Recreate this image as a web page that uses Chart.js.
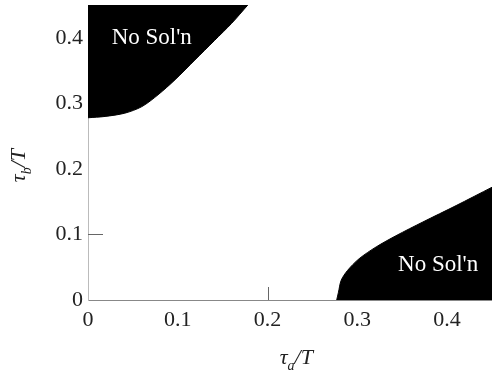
<!DOCTYPE html>
<html>
<head>
<meta charset="utf-8">
<script src="https://cdn.jsdelivr.net/npm/chart.js@4.4.1/dist/chart.umd.min.js"></script>
<style>
  html, body { margin: 0; padding: 0; background: #fff; }
  #wrap { width: 492px; height: 379px; }
</style>
</head>
<body>
<div id="wrap"><canvas id="myChart"></canvas></div>
<script>
// boundary of the upper "no solution" region (tau_a/T, tau_b/T)
const upperX = [0, 0.019, 0.041, 0.060, 0.078, 0.097, 0.119, 0.141, 0.160, 0.178];
const upperY = [0.278, 0.280, 0.285, 0.295, 0.313, 0.336, 0.366, 0.396, 0.422, 0.45];
// boundary of the lower "no solution" region
const lowerX = [0.277, 0.279, 0.282, 0.289, 0.302, 0.321, 0.343, 0.373, 0.410, 0.45];
const lowerY = [0, 0.012, 0.030, 0.045, 0.063, 0.081, 0.098, 0.119, 0.144, 0.172];

const xTicks = [0, 0.1, 0.2, 0.3, 0.4];
const yTicks = [0, 0.1, 0.2, 0.3, 0.4];
const labelText = "No Sol'n";
const labelX = [0.071, 0.39];
const labelY = [0.4, 0.053];

const serif = '"Liberation Serif", "Times New Roman", serif';

function pts(xs, ys) {
    return xs.map((x, i) => ({ x: x, y: ys[i] }));
}

// labels, axis titles and the two inner tick marks
const extras = {
    id: 'extras',
    afterDatasetsDraw(chart) {
        const ctx = chart.ctx;
        const xs = chart.scales.x, ys = chart.scales.y;
        const area = chart.chartArea;
        ctx.save();
        ctx.fillStyle = '#fff';
        ctx.font = '23px ' + serif;
        ctx.textAlign = 'center';
        ctx.textBaseline = 'middle';
        labelX.forEach((x, i) => {
            ctx.fillText(labelText, xs.getPixelForValue(x), ys.getPixelForValue(labelY[i]));
        });

        // inner tick marks
        ctx.strokeStyle = '#666';
        ctx.lineWidth = 1;
        const ty = Math.round(ys.getPixelForValue(0.1)) + 0.5;
        ctx.beginPath();
        ctx.moveTo(area.left, ty);
        ctx.lineTo(area.left + 15, ty);
        const tx = Math.round(xs.getPixelForValue(0.2)) + 0.5;
        ctx.moveTo(tx, area.bottom);
        ctx.lineTo(tx, area.bottom - 13);
        ctx.stroke();

        // axis titles with subscripts
        ctx.fillStyle = '#222';
        ctx.textAlign = 'left';
        ctx.textBaseline = 'alphabetic';
        function title(sub, cx, cy) {
            ctx.font = 'italic 22px ' + serif;
            const w1 = ctx.measureText('\u03c4').width;
            ctx.font = 'italic 14px ' + serif;
            const w2 = ctx.measureText(sub).width;
            ctx.font = 'italic 22px ' + serif;
            const w3 = ctx.measureText('/T').width;
            let x = cx - (w1 + w2 + w3) / 2;
            ctx.fillText('\u03c4', x, cy);
            x += w1;
            ctx.font = 'italic 14px ' + serif;
            ctx.fillText(sub, x, cy + 6);
            x += w2;
            ctx.font = 'italic 22px ' + serif;
            ctx.fillText('/T', x, cy);
        }
        title('a', xs.getPixelForValue(0.232), 364);
        ctx.translate(25, ys.getPixelForValue(0.205));
        ctx.rotate(-Math.PI / 2);
        title('b', 0, 0);
        ctx.restore();
    }
};

const data = {
    datasets: [{
        label: 'upper',
        data: pts(upperX, upperY),
        showLine: true,
        borderColor: '#000',
        backgroundColor: '#000',
        borderWidth: 1,
        pointRadius: 0,
        tension: 0.3,
        fill: 'end'
    }, {
        label: 'lower',
        data: pts(lowerX, lowerY),
        showLine: true,
        borderColor: '#000',
        backgroundColor: '#000',
        borderWidth: 1,
        pointRadius: 0,
        tension: 0.3,
        fill: 'origin'
    }]
};

const config = {
    type: 'scatter',
    data: data,
    options: {
        responsive: true,
        maintainAspectRatio: false,
        animation: false,
        layout: { padding: { left: 0, right: 0, top: 5, bottom: 0 } },
        plugins: {
            legend: { display: false },
            tooltip: { enabled: false },
            title: { display: false }
        },
        scales: {
            x: {
                type: 'linear',
                min: 0,
                max: 0.45,
                afterBuildTicks: (s) => { s.ticks = xTicks.map(v => ({ value: v })); },
                afterFit: (s) => {
                    s.height = 79;
                    s.paddingLeft = 0;
                    s.paddingRight = 0;
                },
                grid: { display: false, drawTicks: false },
                border: { display: true, color: '#888', width: 1 },
                ticks: {
                    padding: 7,
                    maxRotation: 0,
                    color: '#222',
                    font: { family: serif, size: 22 },
                    callback: (v) => String(v)
                }
            },
            y: {
                type: 'linear',
                min: 0,
                max: 0.45,
                afterBuildTicks: (s) => { s.ticks = yTicks.map(v => ({ value: v })); },
                afterFit: (s) => {
                    s.width = 88;
                    s.paddingTop = 0;
                    s.paddingBottom = 0;
                },
                grid: { display: false, drawTicks: false },
                border: { display: true, color: '#bbb', width: 1 },
                ticks: {
                    padding: 5,
                    color: '#222',
                    font: { family: serif, size: 22 },
                    callback: (v) => String(v)
                }
            }
        }
    },
    plugins: [extras]
};

var ctx = document.getElementById('myChart').getContext('2d');
var myChart = new Chart(ctx, config);
</script>
</body>
</html>
